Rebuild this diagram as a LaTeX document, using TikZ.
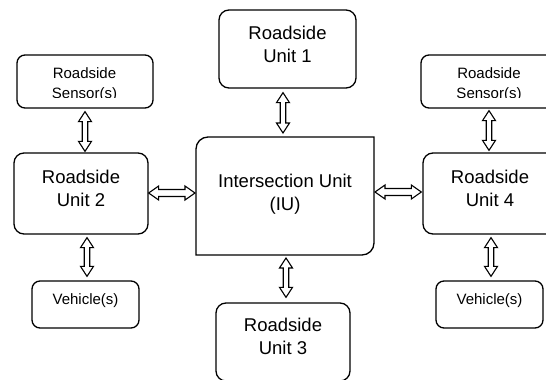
\documentclass[tikz,border=0pt]{standalone}
\usepackage{fontspec}
\setmainfont{Liberation Sans}
\usetikzlibrary{calc}
\tikzset{
  box/.style={draw, line width=1.3pt, rounded corners=10pt, inner sep=0pt},
  sbox/.style={box, rounded corners=8pt},
  big/.style={align=center, font=\fontsize{18.5}{23}\selectfont, inner sep=0pt},
  small/.style={align=center, font=\fontsize{15}{19.5}\selectfont, inner sep=0pt},
  dbl/.style={draw, line width=1.1pt, fill=white, line join=miter},
}
% vertical hollow double arrow: #1 top tip, #2 bottom tip (x taken from #1)
\newcommand{\vdbl}[2]{\path[dbl] let \p1=#1, \p2=#2 in
  (\x1,\y1) -- (\x1+6.5pt,\y1-10pt) -- (\x1+2.75pt,\y1-10pt) -- (\x1+2.75pt,\y2+10pt)
  -- (\x1+6.5pt,\y2+10pt) -- (\x1,\y2) -- (\x1-6.5pt,\y2+10pt) -- (\x1-2.75pt,\y2+10pt)
  -- (\x1-2.75pt,\y1-10pt) -- (\x1-6.5pt,\y1-10pt) -- cycle;}
% horizontal hollow double arrow: #1 left tip, #2 right tip (y taken from #1)
\newcommand{\hdbl}[2]{\path[dbl] let \p1=#1, \p2=#2 in
  (\x1,\y1) -- (\x1+10pt,\y1+7pt) -- (\x1+10pt,\y1+3.5pt) -- (\x2-10pt,\y1+3.5pt)
  -- (\x2-10pt,\y1+7pt) -- (\x2,\y1) -- (\x2-10pt,\y1-7pt) -- (\x2-10pt,\y1-3.5pt)
  -- (\x1+10pt,\y1-3.5pt) -- (\x1+10pt,\y1-7pt) -- cycle;}
\begin{document}
\begin{tikzpicture}[x=1pt, y=-1pt]
\useasboundingbox (0,0) rectangle (546,380);
\clip (0,0) rectangle (546,380);
% boxes
\node[sbox, minimum width=136pt, minimum height=53pt] (sL) at (85,81.5) {};
\node[box, minimum width=134pt, minimum height=81pt] (u2) at (81,193.5) {};
\node[sbox, minimum width=107pt, minimum height=47pt] (vL) at (85.5,304.5) {};
\node[box, minimum width=137pt, minimum height=78pt] (u1) at (287.5,49) {};
\node[box, minimum width=134pt, minimum height=78pt] (u3) at (283,342) {};
\node[sbox, minimum width=136pt, minimum height=53pt] (sR) at (489,81.5) {};
\node[box, minimum width=134pt, minimum height=81pt] (u4) at (490,193.5) {};
\node[sbox, minimum width=107pt, minimum height=47pt] (vR) at (489.5,304.5) {};
% intersection unit: two rounded corners on one diagonal
\node[inner sep=0pt, outer sep=0pt, minimum width=178pt, minimum height=118pt] (iu) at (285,196) {};
\draw[line width=1.3pt, line join=miter] (iu.south west) -- ($(iu.north west)+(0,12)$)
  to[out=90,in=180] ($(iu.north west)+(12,0)$) -- (iu.north east)
  -- ($(iu.south east)+(0,-12)$) to[out=-90,in=0] ($(iu.south east)+(-12,0)$) -- cycle;
% labels
\node[big] (u1t) at ($(u1)+(0,-4.5)$) {Roadside\\Unit 1};
\node[big] (u2t) at ($(u2)+(0,-5)$) {Roadside\\Unit 2};
\node[big] (u3t) at ($(u3)+(0,-5.5)$) {Roadside\\Unit 3};
\node[big] (u4t) at ($(u4)+(0,-5)$) {Roadside\\Unit 4};
\node[big] (iut) at ($(iu)+(0,-1.5)$) {Intersection Unit\\(IU)};
\node[small] (vLt) at ($(vL)+(0,-4)$) {Vehicle(s)};
\node[small] (vRt) at ($(vR)+(0,-4)$) {Vehicle(s)};
\begin{scope}
  \clip (0,0) rectangle (546,97.5);
  \node[small] (sLt) at ($(sL)+(-0.5,3)$) {Roadside\\Sensor(s)};
  \node[small] (sRt) at ($(sR)+(0,3)$) {Roadside\\Sensor(s)};
\end{scope}
% connectors
\vdbl{($(sL.south)+(0,3)$)}{($(sL.south |- u2.north)+(0,-1)$)}
\vdbl{($(vL.north |- u2.south)+(1.5,3)$)}{($(vL.north)+(1.5,-4)$)}
\vdbl{($(iu.north |- u1.south)+(-2,4)$)}{($(iu.north)+(-2,-4)$)}
\vdbl{($(iu.south)+(1,3)$)}{($(iu.south |- u3.north)+(1,-5)$)}
\vdbl{($(sR.south)+(0,2)$)}{($(sR.south |- u4.north)+(0,-2)$)}
\vdbl{($(vR.north |- u4.south)+(1.5,3)$)}{($(vR.north)+(1.5,-4)$)}
\hdbl{($(u2.east)+(0,-0.5)$)}{($(iu.west |- u2.east)+(-1,0)$)}
\hdbl{($(iu.east |- u4.west)+(1,-1.5)$)}{($(u4.west)+(-1,0)$)}
\end{tikzpicture}
\end{document}
